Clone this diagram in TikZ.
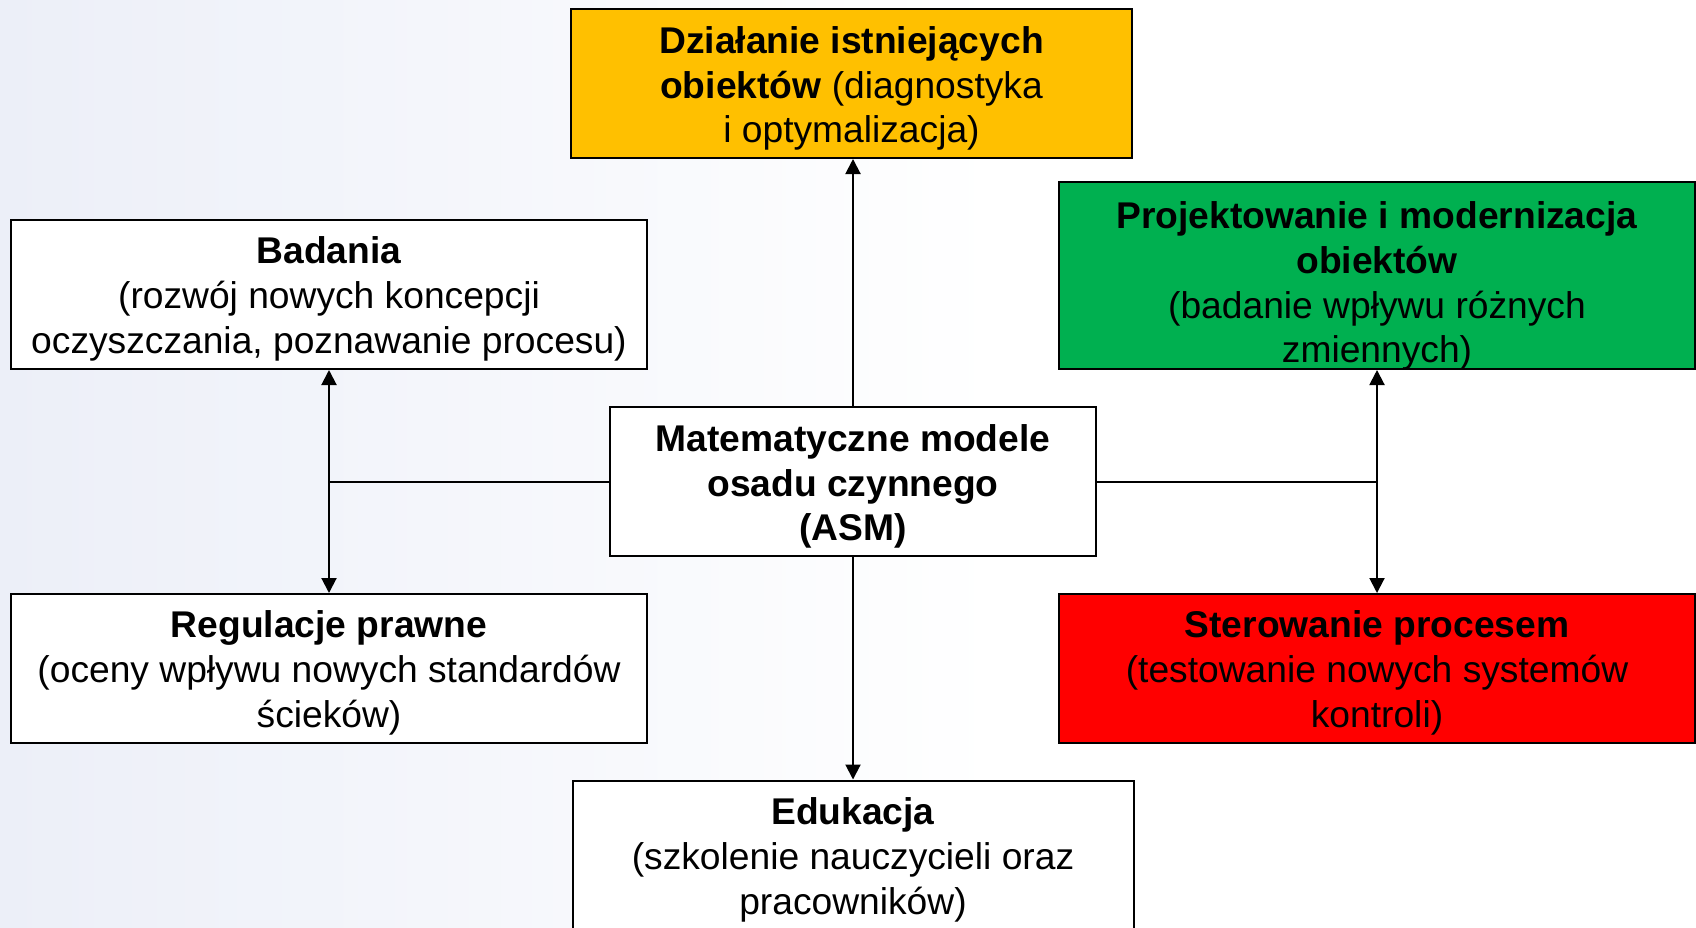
\documentclass[tikz,border=0pt]{standalone}
\usepackage{fontspec}
\setmainfont{Liberation Sans}
\usetikzlibrary{arrows.meta}
\definecolor{bgl}{RGB}{236,239,248}
\definecolor{orangebox}{RGB}{255,192,0}
\definecolor{greenbox}{RGB}{0,176,80}
\definecolor{redbox}{RGB}{255,0,0}
\tikzset{
  box/.style={draw=black, line width=1pt, fill=white, rectangle, inner sep=0pt},
  widebox/.style={box, minimum width=318pt, minimum height=74.5pt},
  midbox/.style={box, minimum width=280.5pt, minimum height=74.5pt},
  lbl/.style={align=center, inner sep=0pt, font=\fontsize{18.6}{22.4}\selectfont},
  conn/.style={line width=1pt, draw=black},
  arr/.style={conn, -{Triangle[width=7.5pt,length=7.5pt]}}
}
\begin{document}
\begin{tikzpicture}[x=0.5pt,y=-0.5pt]
\useasboundingbox (0,0) rectangle (1696,927);
\shade[left color=bgl, right color=white] (0,0) rectangle (1000,927);
\fill[white] (1000,0) rectangle (1696,927);

\node[midbox, fill=orangebox] (dz) at (851.5,83.5) {};
\node[lbl] (dzt) at ([yshift=-2.5pt]dz.center)
  {\textbf{Działanie istniejących}\\\textbf{obiektów} (diagnostyka\\i optymalizacja)};
\node[widebox] (bad) at (329,294.5) {};
\node[lbl] (badt) at ([yshift=-2.2pt]bad.center)
  {\textbf{Badania}\\(rozwój nowych koncepcji\\oczyszczania, poznawanie procesu)};
\node[widebox, fill=greenbox, minimum height=93.5pt] (proj) at (1377,275.5) {};
\node[lbl] (projt) at (1377,286)
  {\textbf{Projektowanie i modernizacja}\\\textbf{obiektów}\\(badanie wpływu różnych\\zmiennych)};
\node[box, minimum width=243pt, minimum height=74.5pt] (asm) at (853,481.5) {};
\node[lbl] (asmt) at ([yshift=-2.5pt]asm.center)
  {\textbf{Matematyczne modele}\\\textbf{osadu czynnego}\\\textbf{(ASM)}};
\node[widebox] (reg) at (329,668.5) {};
\node[lbl] (regt) at ([yshift=-2.2pt]reg.center)
  {\textbf{Regulacje prawne}\\(oceny wpływu nowych standardów\\ścieków)};
\node[widebox, fill=redbox] (ster) at (1377,668.5) {};
\node[lbl] (stert) at ([yshift=-2.2pt]ster.center)
  {\textbf{Sterowanie procesem}\\(testowanie nowych systemów\\kontroli)};
\node[midbox] (edu) at (853,855) {};
\node[lbl] (edut) at ([yshift=-2.5pt]edu.center)
  {\textbf{Edukacja}\\(szkolenie nauczycieli oraz\\pracowników)};

\coordinate (L) at (329,481.5);
\coordinate (R) at (1377,481.5);
\draw[arr] (asm.north) -- (asm.north |- dz.south);
\draw[arr] (asm.south) -- (edu.north);
\draw[conn] (asm.west) -- (L);
\draw[arr] (L) -- (bad.south);
\draw[arr] (L) -- (reg.north);
\draw[conn] (asm.east) -- (R);
\draw[arr] (R) -- (proj.south);
\draw[arr] (R) -- (ster.north);
\end{tikzpicture}
\end{document}
